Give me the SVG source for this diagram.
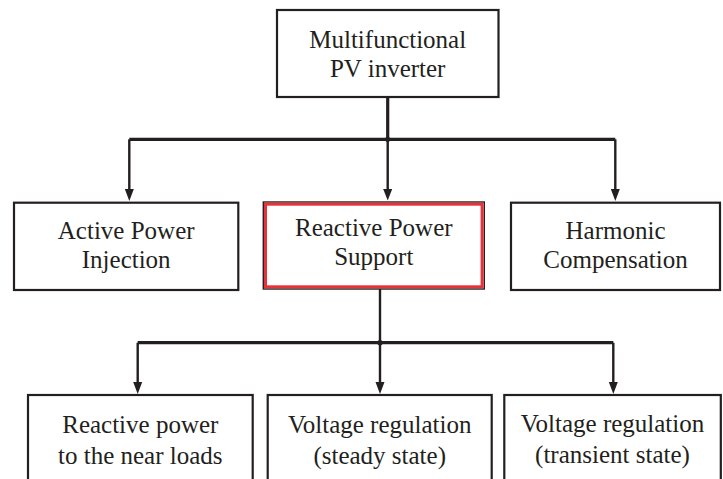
<svg xmlns="http://www.w3.org/2000/svg" width="723" height="479" viewBox="0 0 723 479">
<style>
.box{fill:#fff;stroke:#231f20;stroke-width:2.2}
.red{fill:none;stroke:#e8323a;stroke-width:3}
.t{font-family:"Liberation Serif","Times New Roman",serif;font-size:25px;fill:#231f20;text-anchor:middle}
.ln{fill:none;stroke:#231f20;stroke-width:2.4}
.hl{fill:none;stroke:#231f20;stroke-width:3.2}
.ah{fill:#231f20}
</style>
<rect width="723" height="479" fill="#fff"/>
<g id="connectors">
<line class="hl" x1="387.7" y1="97" x2="387.7" y2="139.3"/>
<polyline class="hl" points="129.3,139.3 615.3,139.3"/>
<line class="ln" x1="129.3" y1="139.3" x2="129.3" y2="190"/>
<line class="ln" x1="387.7" y1="139.3" x2="387.7" y2="190"/>
<line class="ln" x1="615.3" y1="139.3" x2="615.3" y2="190"/>
<path class="ah" d="M124.8,189 L133.8,189 L129.3,201 Z"/>
<path class="ah" d="M383.2,189 L392.2,189 L387.7,200.5 Z"/>
<path class="ah" d="M610.8,189 L619.8,189 L615.3,201 Z"/>
<circle cx="387.7" cy="139.3" r="2.6" fill="#231f20"/>
<line class="ln" x1="380" y1="289" x2="380" y2="342.7"/>
<polyline class="hl" points="137.7,342.7 613.3,342.7"/>
<line class="ln" x1="137.7" y1="342.7" x2="137.7" y2="383"/>
<line class="ln" x1="380" y1="342.7" x2="380" y2="383"/>
<line class="ln" x1="613.3" y1="342.7" x2="613.3" y2="383"/>
<path class="ah" d="M133.2,382 L142.2,382 L137.7,394 Z"/>
<path class="ah" d="M375.5,382 L384.5,382 L380,394 Z"/>
<path class="ah" d="M608.8,382 L617.8,382 L613.3,394 Z"/>
<circle cx="380" cy="342.7" r="2.6" fill="#231f20"/>
</g>
<g id="n-inverter">
<rect class="box" x="277" y="10" width="221.5" height="87"/>
<text class="t" x="387.7" y="48">Multifunctional</text>
<text class="t" x="387.7" y="77">PV inverter</text>
</g>
<g id="n-active">
<rect class="box" x="14" y="202.7" width="224.3" height="87.3"/>
<text class="t" x="126.2" y="239">Active Power</text>
<text class="t" x="126.2" y="268">Injection</text>
</g>
<g id="n-reactive">
<rect x="263.3" y="202" width="221" height="87" fill="#fff" stroke="#231f20" stroke-width="1.4"/>
<rect class="red" x="265.5" y="204.2" width="216.6" height="82.6"/>
<text class="t" x="373.8" y="236">Reactive Power</text>
<text class="t" x="373.8" y="265">Support</text>
</g>
<g id="n-harmonic">
<rect class="box" x="511" y="202.7" width="209" height="87.3"/>
<text class="t" x="615.5" y="239">Harmonic</text>
<text class="t" x="615.5" y="268">Compensation</text>
</g>
<g id="n-near">
<rect class="box" x="28" y="395" width="224.7" height="100"/>
<text class="t" x="140.3" y="433">Reactive power</text>
<text class="t" x="140.3" y="464">to the near loads</text>
</g>
<g id="n-steady">
<rect class="box" x="267.7" y="395" width="224" height="100"/>
<text class="t" x="379.7" y="433">Voltage regulation</text>
<text class="t" x="379.7" y="464">(steady state)</text>
</g>
<g id="n-transient">
<rect class="box" x="504.3" y="395" width="216.5" height="100"/>
<text class="t" x="612.5" y="432">Voltage regulation</text>
<text class="t" x="612.5" y="463">(transient state)</text>
</g>
</svg>
